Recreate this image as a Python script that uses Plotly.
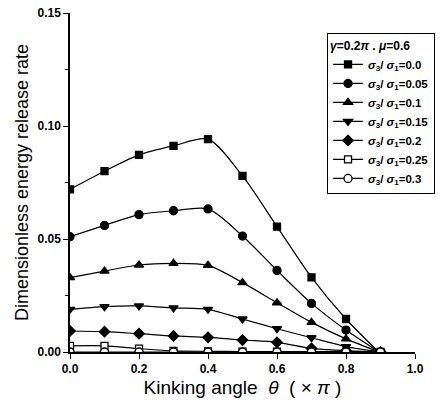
import plotly.graph_objects as go

theta = [0.0, 0.1, 0.2, 0.3, 0.4, 0.5, 0.6, 0.7, 0.8, 0.9]
ratios = ["0.0", "0.05", "0.1", "0.15", "0.2", "0.25", "0.3"]
g_00 = [0.072, 0.080, 0.0872, 0.0912, 0.0942, 0.0779, 0.0555, 0.0330, 0.0146, -0.0008]
g_05 = [0.051, 0.056, 0.0608, 0.0625, 0.0633, 0.0513, 0.0361, 0.0215, 0.0097, -0.0004]
g_10 = [0.0329, 0.0358, 0.0385, 0.0392, 0.0383, 0.0307, 0.0218, 0.0131, 0.0058, -0.0002]
g_15 = [0.0189, 0.0201, 0.0204, 0.0195, 0.0189, 0.0146, 0.0103, 0.0063, 0.0024, 0.0]
g_20 = [0.0093, 0.0090, 0.0081, 0.0071, 0.0065, 0.0053, 0.0043, 0.0016, 0.0006, 0.0]
g_25 = [0.0027, 0.0027, 0.0015, 0.0005, 0.0003, 0.0002, 0.0002, 0.0002, 0.0002, 0.0]
g_30 = [0.0, 0.0, 0.0, 0.0, 0.0, 0.0, 0.0, 0.0, 0.0, 0.0]

series = [g_00, g_05, g_10, g_15, g_20, g_25, g_30]
symbols = ["square", "circle", "triangle-up", "triangle-down", "diamond", "square-open", "circle-open"]
sizes = [7, 8, 8, 8, 8, 7, 8]

fig = go.Figure()
for r, ys, sym, sz in zip(ratios, series, symbols, sizes):
    filled = "open" not in sym
    fig.add_trace(go.Scatter(
        x=theta, y=ys, mode="lines+markers",
        line=dict(color="black", width=1.2, shape="spline", smoothing=0.8),
        marker=dict(symbol=sym.replace("-open", ""), size=sz,
                    color="black" if filled else "white",
                    line=dict(color="black", width=1.3)),
        name="<i>σ</i><sub>3</sub>/ <i>σ</i><sub>1</sub>=" + r,
    ))

fig.update_layout(
    width=448, height=408,
    margin=dict(l=70, r=33, t=13, b=56, autoexpand=False),
    paper_bgcolor="white", plot_bgcolor="white",
    font=dict(family="Liberation Sans, Arial, sans-serif", color="black"),
    showlegend=True,
    legend=dict(
        title=dict(text="<b><i>γ</i>=0.2<i>π</i> . <i>μ</i>=0.6</b>",
                   font=dict(size=12, family="Liberation Sans", color="black")),
        x=0.745, y=0.94, xanchor="left", yanchor="top",
        bgcolor="white", bordercolor="black", borderwidth=1,
        font=dict(size=11.5, family="Liberation Sans", color="black", weight="bold"),
        tracegroupgap=0, itemwidth=30,
    ),
    xaxis=dict(
        range=[0, 1.0], tickvals=[0.0, 0.2, 0.4, 0.6, 0.8, 1.0],
        ticktext=["0.0", "0.2", "0.4", "0.6", "0.8", "1.0"],
        showgrid=False, zeroline=False, showline=True, linecolor="black", linewidth=1.5,
        ticks="outside", ticklen=5, tickwidth=1.2, tickcolor="black",
        tickfont=dict(size=12, family="Liberation Sans", weight="bold"),
        title=dict(text="Kinking angle  <i>θ</i>  ( × <i>π</i> )",
                   font=dict(size=19, family="Liberation Sans"), standoff=6),
    ),
    yaxis=dict(
        range=[0, 0.15], tickvals=[0.0, 0.05, 0.10, 0.15],
        ticktext=["0.00", "0.05", "0.10", "0.15"],
        showgrid=False, zeroline=False, showline=True, linecolor="black", linewidth=1.5,
        ticks="outside", ticklen=5, tickwidth=1.2, tickcolor="black",
        minor=dict(dtick=0.025, ticks="outside", ticklen=3, tickcolor="black", showgrid=False),
        tickfont=dict(size=12, family="Liberation Sans", weight="bold"),
        title=dict(text="Dimensionless energy release rate",
                   font=dict(size=18, family="Liberation Sans"), standoff=4),
    ),
)

fig.write_html("out.html")
